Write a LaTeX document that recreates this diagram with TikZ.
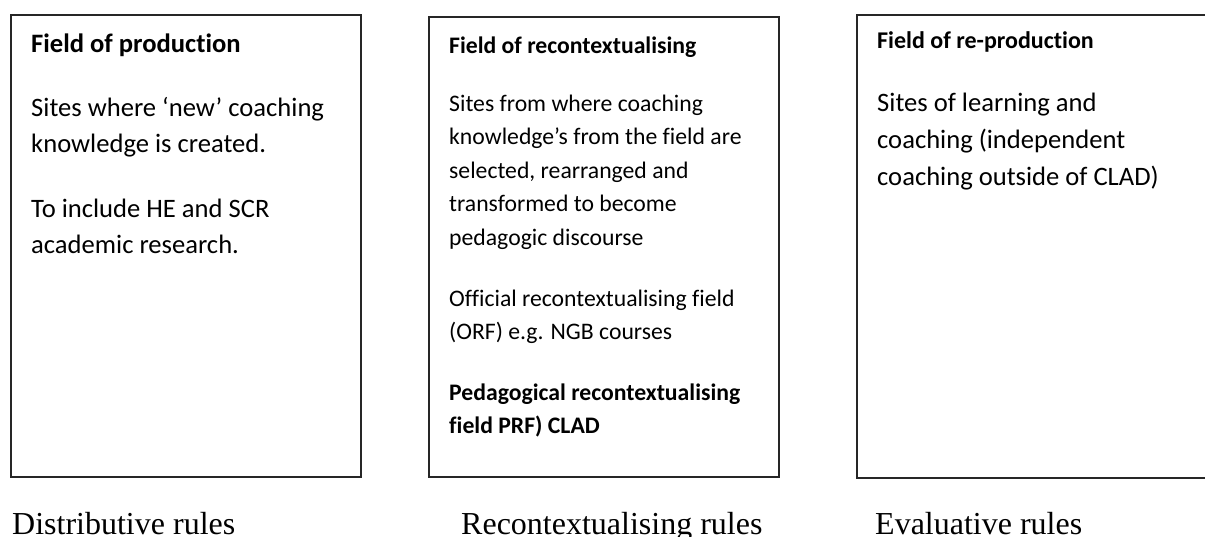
\documentclass[tikz,border=0pt]{standalone}
\usepackage{fontspec}
\setmainfont[Ligatures=NoCommon]{Carlito}
\newfontfamily\tnr{Liberation Serif}
\begin{document}
\begin{tikzpicture}[x=1pt,y=-1pt,
  fieldbox/.style={draw=black!85,line width=1.1pt},
  boxtext/.style={anchor=north west,inner sep=0pt,align=left,text=black},
  rulelabel/.style={anchor=base west,inner sep=0pt,font=\tnr\fontsize{32}{36}\selectfont}]
\clip (0,0) rectangle (1205,536);
\fill[white] (0,0) rectangle (1205,536);
% boxes
\draw[fieldbox] (11,15) rectangle (361,477);
\draw[fieldbox] (429,17) rectangle (779,477);
\draw[fieldbox] (857,15) rectangle (1215,478);
% box 1
\node[boxtext,font=\fontsize{26.6}{36.5}\selectfont] (t1) at (31,34)
  {\textbf{Field of production}\\[27pt]
   Sites where ‘new’ coaching\\
   knowledge is created.\\[28pt]
   To include HE and SCR\\
   academic research.};
% box 2
\node[boxtext,font=\fontsize{23.7}{33.5}\selectfont] (t2) at (449,36.5)
  {\textbf{Field of recontextualising}\\[24.5pt]
   Sites from where coaching\\
   knowledge’s from the field are\\
   selected, rearranged and\\
   transformed to become\\
   pedagogic discourse\\[27.5pt]
   Official recontextualising field\\
   (ORF) e.g. NGB courses\\[27pt]
   \textbf{Pedagogical recontextualising}\\
   \textbf{field PRF) CLAD}};
% box 3
\node[boxtext,font=\fontsize{24}{37}\selectfont] (t3) at (877,31.5)
  {\textbf{Field of re-production}\\[26pt]
   {\fontsize{26.6}{37.5}\selectfont Sites of learning and}\\
   {\fontsize{26.6}{37.5}\selectfont coaching (independent}\\
   {\fontsize{26.6}{37.5}\selectfont coaching outside of CLAD)}};
% rule labels
\node[rulelabel] (r1) at (12,534) {Distributive rules};
\node[rulelabel] (r2) at (461,534) {Recontextualising rules};
\node[rulelabel] (r3) at (875,534) {Evaluative rules};
\end{tikzpicture}
\end{document}
